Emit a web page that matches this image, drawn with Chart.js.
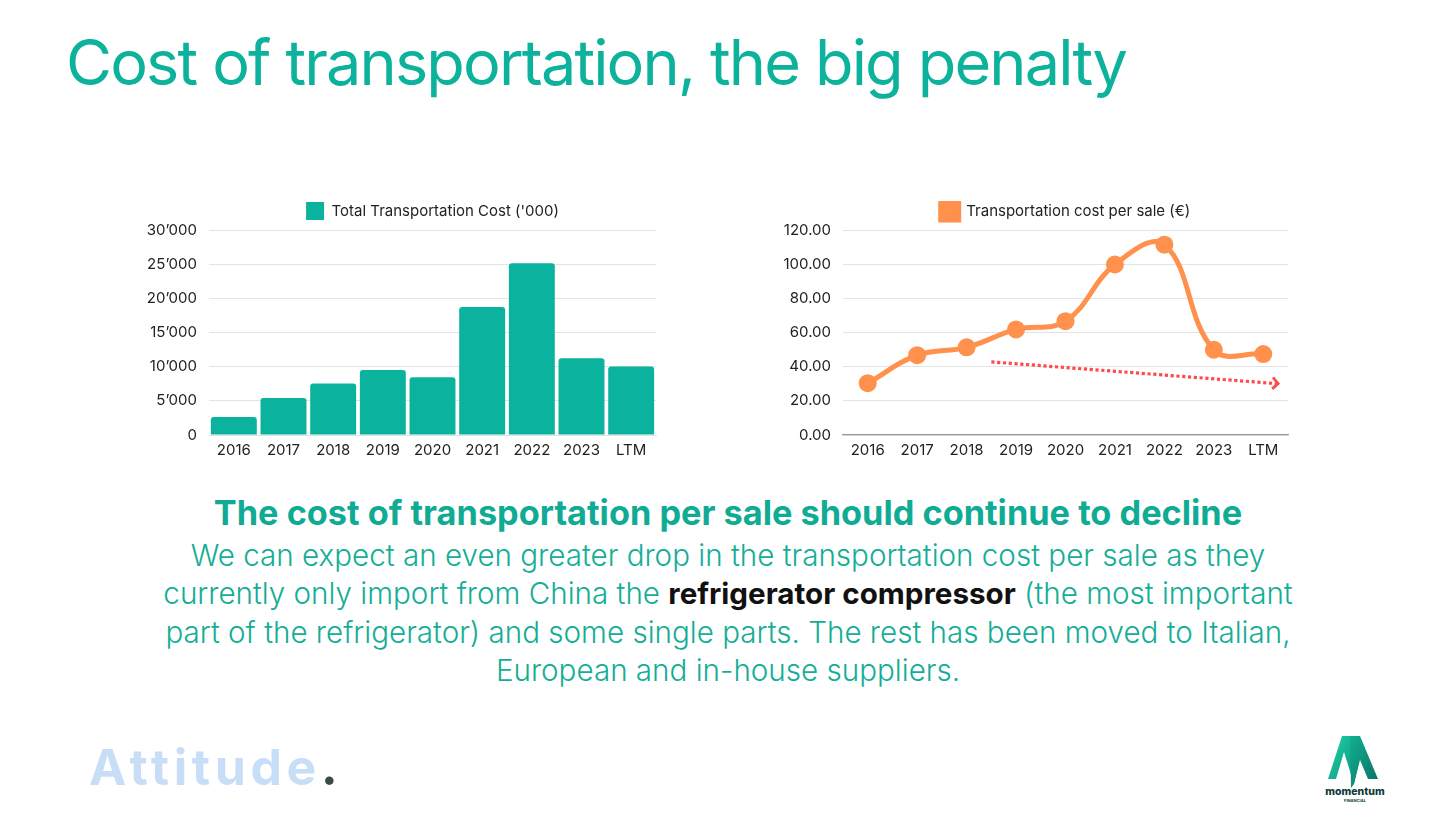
<!DOCTYPE html>
<html>
<head>
<meta charset="utf-8">
<script src="https://cdn.jsdelivr.net/npm/chart.js@4.4.1/dist/chart.umd.min.js"></script>
<style>
  html, body { margin:0; padding:0; background:#fff; }
  body { width:1456px; height:819px; position:relative; overflow:hidden; font-family:Inter, "Noto Sans", sans-serif; }
  .title { position:absolute; left:66px; top:24px; font-size:63px; color:#0CB29C; font-weight:400; letter-spacing:-1.85px; white-space:nowrap; }
  .box { position:absolute; }
  .heading { position:absolute; left:0; width:1456px; top:492px; text-align:center; font-size:34.3px; font-weight:700; color:#10AB94; white-space:nowrap; }
  .body { position:absolute; left:0; width:1456px; top:536px; text-align:center; font-size:29.6px; font-weight:300; color:#14AD96; line-height:38.3px; white-space:nowrap; }
  .body b { color:#111; font-weight:700; }
  .attitude { position:absolute; left:89px; top:737px; font-size:50px; font-weight:700; color:#C8DEF7; letter-spacing:4.6px; }
  .attitude span { color:#3B4A48; }
  .logo { position:absolute; left:1320px; top:732px; width:70px; height:75px; }
</style>
</head>
<body>
<div class="title">Cost of transportation, the big penalty</div>

<div class="box" style="left:140px; top:195px; width:532px; height:272px;"><canvas id="c1"></canvas></div>
<div class="box" style="left:775px; top:195px; width:532px; height:272px;"><canvas id="c2"></canvas></div>

<div class="heading">The cost of transportation per sale should continue to decline</div>
<div class="body">We can expect an even greater drop in the transportation cost per sale as they<br>currently only import from China the <b>refrigerator compressor</b> (the most important<br>part of the refrigerator) and some single parts. The rest has been moved to Italian,<br>European and in-house suppliers.</div>

<div class="attitude">Attitude<span>.</span></div>

<svg class="logo" viewBox="0 0 70 75">
  <defs>
    <linearGradient id="g1" x1="0" y1="0" x2="1" y2="1">
      <stop offset="0" stop-color="#1FD3A6"/><stop offset="1" stop-color="#0B8F80"/>
    </linearGradient>
    <linearGradient id="g2" x1="0" y1="0" x2="1" y2="1">
      <stop offset="0" stop-color="#11B08F"/><stop offset="1" stop-color="#0A6F66"/>
    </linearGradient>
  </defs>
  <polygon points="8,47 22,4 32,4 38,30 34,52 24,20 16,47" fill="url(#g1)"/>
  <polygon points="30,4 40,4 58,47 48,47 40,28 34,52 31,56" fill="url(#g2)"/>
  <text x="35" y="63" text-anchor="middle" font-family="Inter, sans-serif" font-size="10.5" font-weight="800" fill="#0E3B38">momentum</text>
  <text x="35" y="70" text-anchor="middle" font-family="Inter, sans-serif" font-size="4" font-weight="700" fill="#0E3B38">FINANCIAL</text>
</svg>

<script>
// ---- data ----
const categories = ['2016','2017','2018','2019','2020','2021','2022','2023','LTM'];
const totalCost = [2640, 5420, 7540, 9500, 8450, 18720, 25150, 11230, 10030];
const costPerSale = [30.3, 46.7, 51.3, 61.8, 66.6, 99.8, 111.4, 49.9, 47.4];
const leftTicks = [0, 5000, 10000, 15000, 20000, 25000, 30000];
const rightTicks = [0, 20, 40, 60, 80, 100, 120];
const trendX = [2.5, 8.3];
const trendY = [42.8, 30.1];

const TEAL = '#0BB39F';
const ORANGE = '#FF914D';
const FONT = 'Inter, "Noto Sans", sans-serif';

Chart.defaults.font.family = FONT;
Chart.defaults.color = '#222';

function fmtThousands(v) {
  return String(Math.round(v)).replace(/\B(?=(\d{3})+(?!\d))/g, '\u2019');
}

const commonLegend = {
  position: 'top',
  fullSize: false,
  labels: { boxWidth: 18, boxHeight: 18, padding: 1, font: { size: 15 }, color: '#222' }
};

new Chart(document.getElementById('c1'), {
  type: 'bar',
  data: {
    labels: categories,
    datasets: [{
      label: "Total Transportation Cost ('000)",
      data: totalCost,
      backgroundColor: TEAL,
      borderRadius: { topLeft: 3, topRight: 3, bottomLeft: 0, bottomRight: 0 },
      borderSkipped: 'bottom',
      categoryPercentage: 1,
      barPercentage: 0.925
    }]
  },
  options: {
    responsive: true, maintainAspectRatio: false, animation: false,
    layout: { padding: { left: 5, right: 16, top: 6, bottom: 4 } },
    plugins: { legend: commonLegend, tooltip: { enabled: false } },
    scales: {
      x: {
        grid: { display: false, drawTicks: false },
        border: { display: true, color: '#E3E3E3' },
        ticks: { font: { size: 15 }, color: '#222', padding: 6 },
        afterFit(s) { s.height = 28; }
      },
      y: {
        min: 0, max: 30000,
        afterBuildTicks(s) { s.ticks = leftTicks.map(v => ({ value: v })); },
        grid: { color: '#E3E3E3', drawTicks: false },
        border: { display: false },
        ticks: { font: { size: 15 }, color: '#222', padding: 12, callback: v => fmtThousands(v) },
        afterFit(s) { s.width = 64; }
      }
    }
  }
});

const trendPlugin = {
  id: 'trend',
  afterDatasetsDraw(chart) {
    const { ctx, scales: { x, y } } = chart;
    const x0 = x.getPixelForValue(trendX[0]), y0 = y.getPixelForValue(trendY[0]);
    const x1 = x.getPixelForValue(trendX[1]), y1 = y.getPixelForValue(trendY[1]);
    ctx.save();
    ctx.strokeStyle = '#FF4B4B';
    ctx.lineWidth = 3.2;
    ctx.setLineDash([3.2, 2.6]);
    ctx.beginPath(); ctx.moveTo(x0, y0); ctx.lineTo(x1 - 2, y1); ctx.stroke();
    ctx.setLineDash([]);
    const ang = Math.atan2(y1 - y0, x1 - x0);
    const L = 8;
    ctx.lineWidth = 2.8;
    ctx.beginPath();
    ctx.moveTo(x1 - L * Math.cos(ang - 0.8), y1 - L * Math.sin(ang - 0.8));
    ctx.lineTo(x1, y1);
    ctx.lineTo(x1 - L * Math.cos(ang + 0.8), y1 - L * Math.sin(ang + 0.8));
    ctx.stroke();
    ctx.restore();
  }
};

new Chart(document.getElementById('c2'), {
  type: 'line',
  data: {
    labels: categories,
    datasets: [{
      label: 'Transportation cost per sale (\u20AC)',
      data: costPerSale,
      borderColor: ORANGE,
      backgroundColor: ORANGE,
      borderWidth: 5,
      tension: 0.4,
      pointRadius: 9,
      pointBackgroundColor: ORANGE,
      pointBorderColor: ORANGE,
      pointBorderWidth: 0
    }]
  },
  options: {
    responsive: true, maintainAspectRatio: false, animation: false,
    layout: { padding: { left: 5, right: 19, top: 6, bottom: 4 } },
    plugins: { legend: commonLegend, tooltip: { enabled: false } },
    scales: {
      x: {
        offset: true,
        grid: { display: false, drawTicks: false },
        border: { display: true, color: '#9A9A9A', width: 1.2 },
        ticks: { font: { size: 15 }, color: '#222', padding: 6 },
        afterFit(s) { s.height = 28; }
      },
      y: {
        min: 0, max: 120,
        afterBuildTicks(s) { s.ticks = rightTicks.map(v => ({ value: v })); },
        grid: { color: '#E3E3E3', drawTicks: false },
        border: { display: false },
        ticks: { font: { size: 15 }, color: '#222', padding: 12, callback: v => Number(v).toFixed(2) },
        afterFit(s) { s.width = 63; }
      }
    }
  },
  plugins: [trendPlugin]
});
</script>
</body>
</html>
